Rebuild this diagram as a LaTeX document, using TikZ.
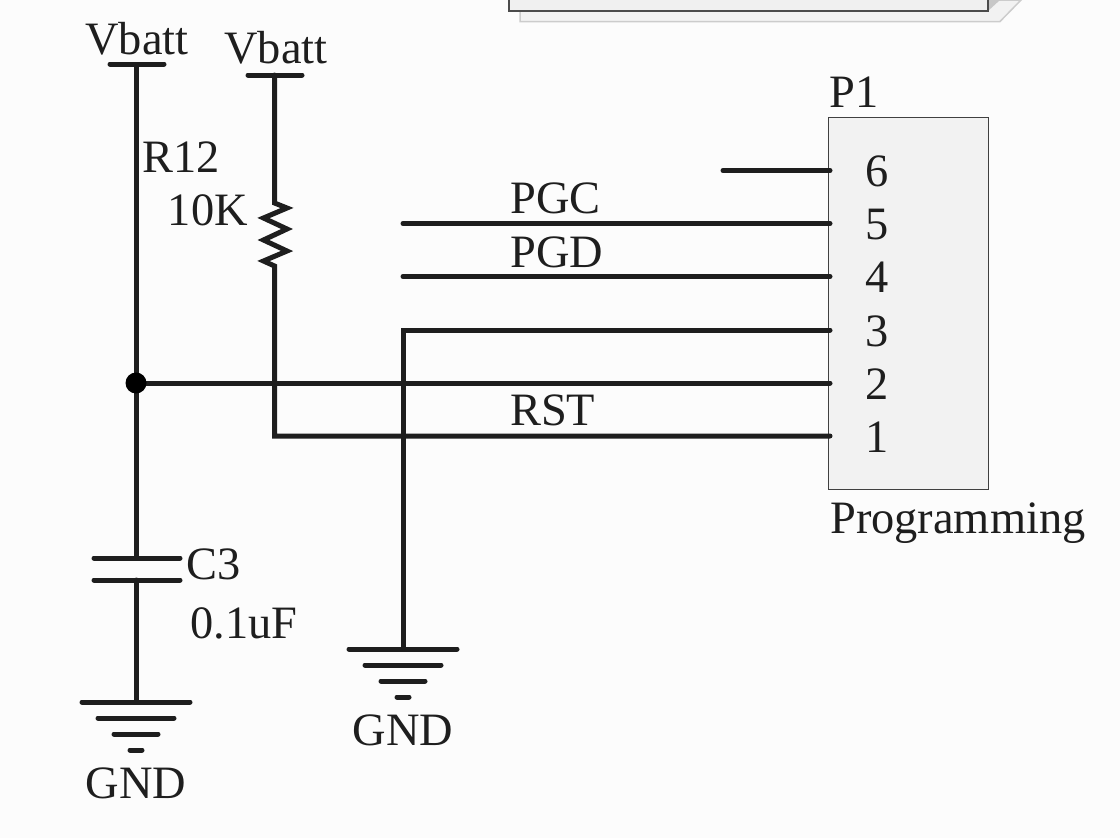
\documentclass[tikz,border=0pt]{standalone}
\usepackage{fontspec}
\setmainfont{Liberation Serif}
\definecolor{ink}{HTML}{1E1E1E}
\begin{document}
\begin{tikzpicture}[x=1pt,y=-1pt,
  wire/.style={draw=ink,line width=5pt,line cap=round,line join=miter},
  lbl/.style={inner sep=0pt,text=ink,font=\fontsize{46.4}{50}\selectfont},
  pinnum/.style={lbl,anchor=center},
  vlabel/.style={lbl,anchor=base}]
\useasboundingbox[fill=white!99!black] (0,0) rectangle (1120,838);
% module partially out of frame
\fill[white!95!black,draw=white!80!black,line width=1.5pt] (520,0) -- (520,21.5) -- (1000,21.5) -- (1021,0) -- cycle;
\fill[white!78!black] (988,11) -- (1000,0) -- (988,0) -- cycle;
\fill[white!94!black,draw=black!70,line width=1.5pt] (509,0) -- (509,11) -- (988,11) -- (988,0);
% connector body
\node[draw=black!75,fill=white!95!black,line width=1pt,minimum width=160pt,minimum height=372pt,inner sep=0pt] (P1) at (908,303) {};
\foreach \n/\y in {6/170.5,5/223.5,4/276.5,3/330,2/383,1/436}{
  \coordinate (pin\n) at (830,\y);
  \node[pinnum] (num\n) at (877,\y+1) {\n};
}
% named free ends
\coordinate (vb1) at (136,65);
\coordinate (vb2) at (274.5,75);
\coordinate (junc) at (136,383);
\coordinate (c1) at (136,558);
\coordinate (c2) at (136,580);
\coordinate (g1) at (136,702);
\coordinate (g2) at (403,649);
\coordinate (s6) at (723,170.5);
\coordinate (s5) at (403,223.5);
\coordinate (s4) at (403,276.5);
% wires
\draw[wire] (vb1) -- (c1);
\draw[wire] (c2) -- (g1);
\draw[wire] (pin6) -- (s6);
\draw[wire] (pin5) -- (s5);
\draw[wire] (pin4) -- (s4);
\draw[wire] (g2) -- (403,330) -- (pin3);
\draw[wire] (junc) -- (pin2);
\draw[wire] (vb2) -- (274.5,203) -- (287,208) -- (263.5,218) -- (287,229) -- (263.5,240) -- (287,251) -- (263.5,261) -- (274.5,266) -- (274.5,436) -- (pin1);
\fill[black] (junc) circle (10.5pt);
% Vbatt bars
\draw[wire] (110,64) -- (164,64);
\draw[wire] (248,75) -- (302,75);
% capacitor
\draw[wire] (94,558) -- (180,558);
\draw[wire] (94,580) -- (180,580);
% grounds
\foreach \x/\y in {136/702,403/649}{
  \draw[wire] (\x-54,\y) -- (\x+54,\y);
  \draw[wire] (\x-38,\y+16) -- (\x+38,\y+16);
  \draw[wire] (\x-22,\y+32) -- (\x+22,\y+32);
  \draw[wire] (\x-6,\y+48) -- (\x+6,\y+48);
}
% labels
\node[vlabel] (lv1) at (137,54) {Vbatt};
\node[vlabel] (lv2) at (276,63) {Vbatt};
\node[lbl,anchor=base west] (lr12) at (142,172) {R12};
\node[lbl,anchor=base east] (lr10) at (248,225) {10K};
\node[lbl,anchor=base west] (lc3) at (186,579) {C3};
\node[lbl,anchor=base west] (lcv) at (190,638) {0.1uF};
\node[vlabel] (lg1) at (136,798) {GND};
\node[vlabel] (lg2) at (403,745) {GND};
\node[lbl,anchor=base west] (lp1) at (829,107) {P1};
\node[lbl,anchor=base west] (lprog) at (830,533) {Programming};
\node[lbl,anchor=base west] (lpgc) at (510,213) {PGC};
\node[lbl,anchor=base west] (lpgd) at (510,267) {PGD};
\node[lbl,anchor=base west] (lrst) at (510,425) {RST};
\end{tikzpicture}
\end{document}
